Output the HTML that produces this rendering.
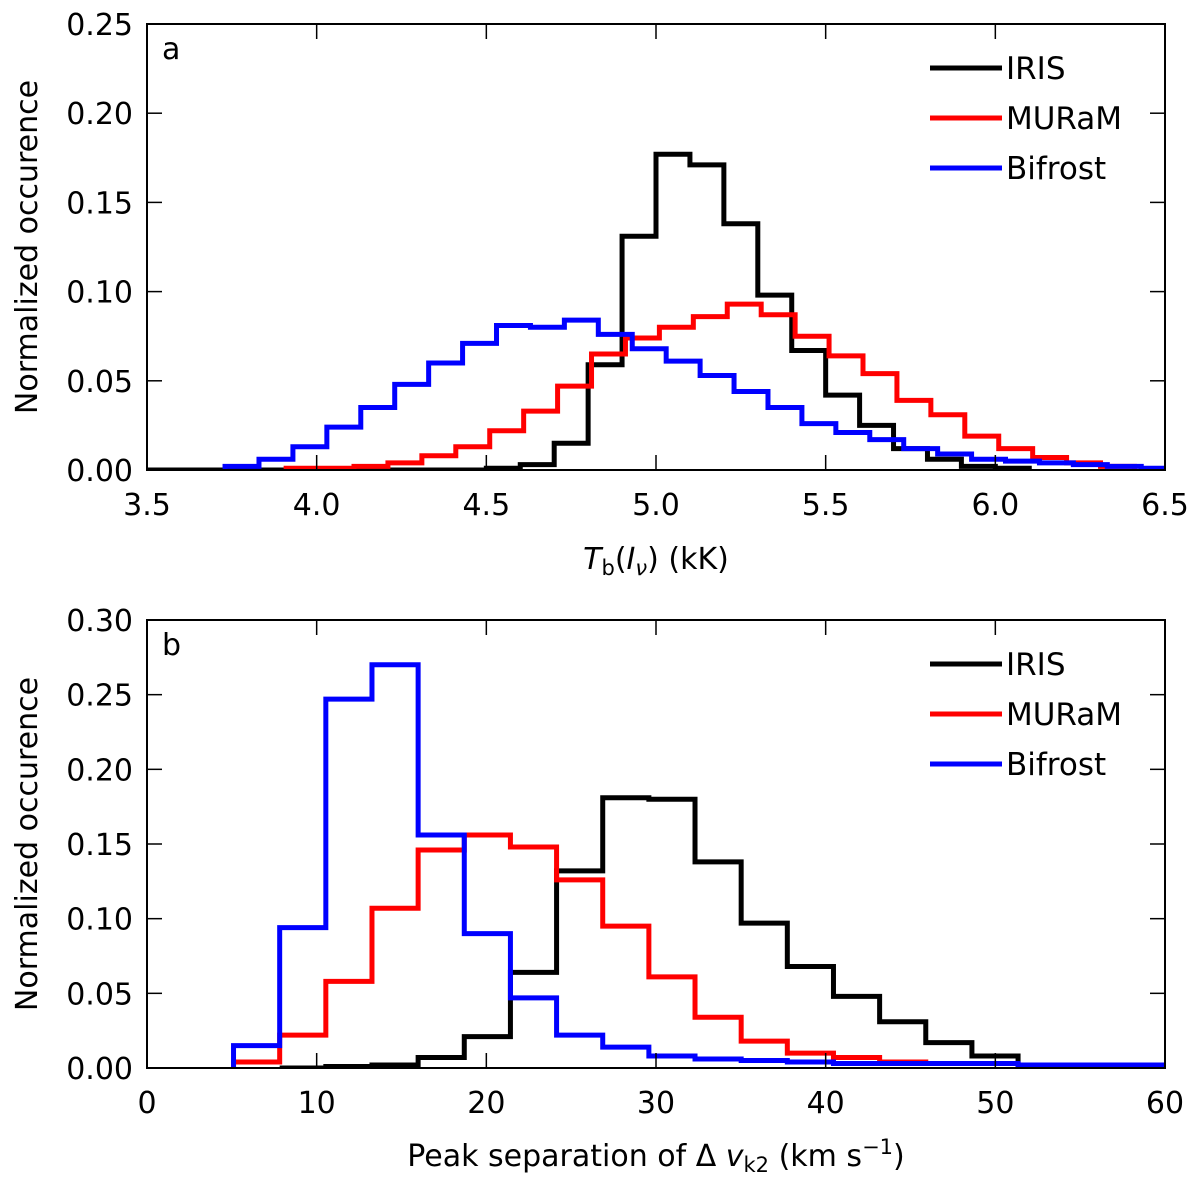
<!DOCTYPE html>
<html><head><meta charset="utf-8"><style>
body{margin:0;background:#fff}
svg{display:block;font-family:"DejaVu Sans","Liberation Sans",sans-serif}
</style></head><body>
<svg id="chart" width="1200" height="1183" viewBox="0 0 1200 1183" xmlns="http://www.w3.org/2000/svg"></svg>
<script>
// Panel a data (bin start, width 0.1 kK)
const aIrisStart = 3.5;
const aIris = [0,0,0,0,0,0,0,0,0,0,0.001,0.003,0.015,0.059,0.131,0.177,0.171,0.138,0.098,0.067,0.042,0.025,0.012,0.006,0.002,0.001];
const aMuramStart = 3.91;
const aMuram = [0.001,0.001,0.002,0.004,0.008,0.013,0.022,0.033,0.047,0.065,0.074,0.080,0.086,0.093,0.087,0.075,0.064,0.054,0.039,0.031,0.019,0.012,0.007,0.004,0.002];
const aBifrostStart = 3.73;
const aBifrost = [0.002,0.006,0.013,0.024,0.035,0.048,0.060,0.071,0.081,0.080,0.084,0.076,0.068,0.061,0.053,0.044,0.035,0.026,0.021,0.017,0.012,0.009,0.006,0.005,0.004,0.003,0.002,0.001];
const aBinWidth = 0.1;
const aXTicks = [3.5,4.0,4.5,5.0,5.5,6.0,6.5];
const aYTicks = [0,0.05,0.10,0.15,0.20,0.25];
// Panel b data (bin width 2.72 km/s)
const bStart = 5.1;
const bBinWidth = 2.72;
const bIrisOffset = 1;
const bIris = [0,0.001,0.002,0.007,0.021,0.064,0.132,0.181,0.180,0.138,0.097,0.068,0.048,0.031,0.017,0.008];
const bMuram = [0.004,0.022,0.058,0.107,0.146,0.156,0.148,0.126,0.095,0.061,0.034,0.018,0.010,0.007,0.004,0.003,0.003,0.002];
const bBifrost = [0.015,0.094,0.247,0.270,0.156,0.090,0.047,0.022,0.014,0.008,0.006,0.005,0.004,0.003,0.003,0.003,0.003,0.002,0.002,0.002,0.002];
const bXTicks = [0,10,20,30,40,50,60];
const bYTicks = [0,0.05,0.10,0.15,0.20,0.25,0.30];

const NS="http://www.w3.org/2000/svg";
const svg=document.getElementById('chart');
function mk(tag,attrs,parent){const e=document.createElementNS(NS,tag);for(const k in attrs)e.setAttribute(k,attrs[k]);(parent||svg).appendChild(e);return e;}

function panel(cfg){
  const g=mk('g',{});
  
  
  const L=147,R=1165,T=cfg.top,B=cfg.bottom;
  const sx=v=>L+(v-cfg.xmin)/(cfg.xmax-cfg.xmin)*(R-L);
  const sy=v=>B-(v-cfg.ymin)/(cfg.ymax-cfg.ymin)*(B-T);
  const clip='clip-'+cfg.name;
  const cp=mk('clipPath',{id:clip},g);mk('rect',{x:L,y:T,width:R-L,height:B-T},cp);
  cfg.series.forEach(s=>{
    let d='';
    s.vals.forEach((v,i)=>{
      const x0=sx(s.start+i*s.w),x1=sx(s.start+(i+1)*s.w),y=sy(v);
      d+=(i===0?'M'+x0+','+sy(0)+'L'+x0+','+y:'L'+x0+','+y)+'L'+x1+','+y;
    });
    const last=s.start+s.vals.length*s.w;
    d+='L'+sx(last)+','+sy(0);
    const p=mk('path',{d:d,fill:'none',stroke:s.color,'stroke-width':5,'stroke-linejoin':'miter','clip-path':'url(#'+clip+')'},g);
    
    
  });
  cfg.xticks.forEach(t=>{
    const x=sx(t);
    mk('line',{x1:x,y1:B,x2:x,y2:B-15,stroke:'#000','stroke-width':1.5},g);
    mk('line',{x1:x,y1:T,x2:x,y2:T+15,stroke:'#000','stroke-width':1.5},g);
    const tx=mk('text',{x:x,y:B+45,'font-size':30,'text-anchor':'middle'},g);
    tx.textContent=cfg.xfmt(t);
    
    
  });
  cfg.yticks.forEach(t=>{
    const y=sy(t);
    mk('line',{x1:L,y1:y,x2:L+15,y2:y,stroke:'#000','stroke-width':1.5},g);
    mk('line',{x1:R,y1:y,x2:R-15,y2:y,stroke:'#000','stroke-width':1.5},g);
    const tx=mk('text',{x:L-14,y:y+11,'font-size':30,'text-anchor':'end'},g);
    tx.textContent=t.toFixed(2);
    
    
  });
  const fr=mk('rect',{x:L,y:T,width:R-L,height:B-T,fill:'none',stroke:'#000','stroke-width':2},g);
  
  
  const pl=mk('text',{x:162,y:T+35,'font-size':30},g);pl.textContent=cfg.letter;
  
  
  const yt=mk('text',{x:0,y:0,'font-size':30,'text-anchor':'middle',transform:'translate(37,'+((T+B)/2)+') rotate(-90)'},g);
  yt.textContent='Normalized occurence';
  
  
  cfg.series.forEach((s,i)=>{
    const y=cfg.top+44+i*50;
    const lg=mk('g',{},g);
    
    
    mk('line',{x1:930,y1:y,x2:1002,y2:y,stroke:s.color,'stroke-width':5},lg);
    const t=mk('text',{x:1006,y:y+11,'font-size':31},lg);t.textContent=s.label;
  });
  return g;
}

panel({name:'panel-a',top:24,bottom:470,xmin:3.5,xmax:6.5,ymin:0,ymax:0.25,letter:'a',
  xticks:aXTicks,yticks:aYTicks,xfmt:t=>t.toFixed(1),
  series:[{label:'IRIS',color:'#000',start:aIrisStart,w:aBinWidth,vals:aIris},
          {label:'MURaM',color:'#ff0000',start:aMuramStart,w:aBinWidth,vals:aMuram},
          {label:'Bifrost',color:'#0000ff',start:aBifrostStart,w:aBinWidth,vals:aBifrost}]});
panel({name:'panel-b',top:620,bottom:1068,xmin:0,xmax:60,ymin:0,ymax:0.30,letter:'b',
  xticks:bXTicks,yticks:bYTicks,xfmt:t=>String(t),
  series:[{label:'IRIS',color:'#000',start:bStart+bIrisOffset*bBinWidth,w:bBinWidth,vals:bIris},
          {label:'MURaM',color:'#ff0000',start:bStart,w:bBinWidth,vals:bMuram},
          {label:'Bifrost',color:'#0000ff',start:bStart,w:bBinWidth,vals:bBifrost}]});

let xa=mk('text',{x:656,y:569,'font-size':30,'text-anchor':'middle'});
xa.innerHTML='<tspan font-style="italic">T</tspan><tspan font-size="21" dy="6">b</tspan><tspan dy="-6">(</tspan><tspan font-style="italic">I</tspan><tspan font-style="italic" font-size="21" dy="6">ν</tspan><tspan dy="-6">) (kK)</tspan>';


let xb=mk('text',{x:656,y:1166,'font-size':30,'text-anchor':'middle'});
xb.innerHTML='Peak separation of Δ <tspan font-style="italic">v</tspan><tspan font-size="21" dy="6">k2</tspan><tspan dy="-6"> (km s</tspan><tspan font-size="21" dy="-12">−1</tspan><tspan dy="12">)</tspan>';


</script>
</body></html>
